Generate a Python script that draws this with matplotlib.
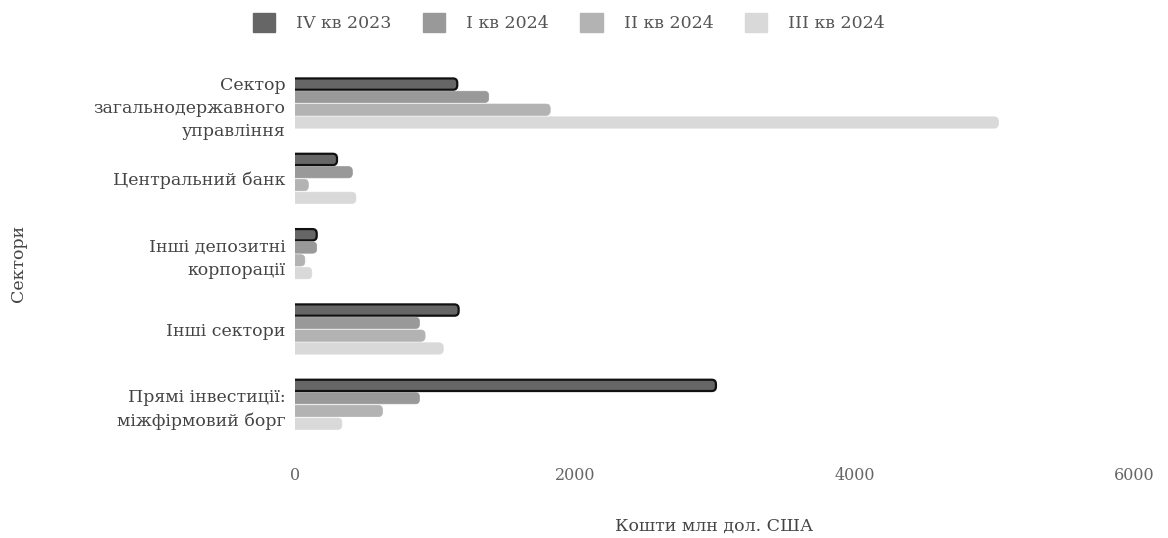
import matplotlib
matplotlib.use("Agg")
import matplotlib.pyplot as plt
from matplotlib.patches import FancyBboxPatch
import numpy as np

plt.rcParams['font.family'] = ['DejaVu Serif', 'Liberation Serif']

sectors = ["Сектор\nзагальнодержавного\nуправління",
           "Центральний банк",
           "Інші депозитні\nкорпорації",
           "Інші сектори",
           "Прямі інвестиції:\nміжфірмовий борг"]
series = ["IV кв 2023", "I кв 2024", "II кв 2024", "III кв 2024"]
q4_2023 = [1160, 300, 155, 1170, 3010]
q1_2024 = [1385, 410, 155, 890, 890]
q2_2024 = [1825, 95, 70, 930, 625]
q3_2024 = [5030, 435, 120, 1060, 335]
values = [q4_2023, q1_2024, q2_2024, q3_2024]
colors = ["#666666", "#999999", "#b3b3b3", "#d9d9d9"]

fig = plt.figure(figsize=(11.68, 5.38), dpi=100)
ax = fig.add_axes([0.2526, 0.178, 0.7183, 0.70])
ax.set_xlim(0, 6000)
ax.set_ylim(len(sectors) - 0.5, -0.5)

y = np.arange(len(sectors))
h = 0.15
step = 0.17
handles = []
for k, (vals, c) in enumerate(zip(values, colors)):
    off = (k - 1.5) * step
    bars = ax.barh(y + off, vals, height=h, color=c, alpha=0)
    handles.append(plt.Rectangle((0, 0), 1, 1, color=c))
    for b in bars:
        x0, y0 = b.get_x(), b.get_y()
        w, hh = b.get_width(), b.get_height()
        r = 30
        p = FancyBboxPatch((x0 - 2 * r, y0), w + 2 * r, hh,
                           boxstyle="round,pad=0,rounding_size=%g" % r,
                           mutation_aspect=0.0019,
                           facecolor=c,
                           edgecolor="#111111" if k == 0 else c,
                           linewidth=1.6 if k == 0 else 0.5,
                           clip_on=True)
        ax.add_patch(p)

ax.set_yticks(y)
ax.set_yticklabels(sectors, fontsize=12.5, color="#444444", linespacing=1.45)
ax.set_xticks([0, 2000, 4000, 6000])
ax.set_xticklabels(["0", "2000", "4000", "6000"], fontsize=11.5, color="#666666")
ax.tick_params(axis='both', length=0)
ax.tick_params(axis='x', pad=18)
ax.tick_params(axis='y', pad=7)
for s in ax.spines.values():
    s.set_visible(False)

ax.set_xlabel("Кошти млн дол. США", fontsize=12.5, color="#444444", labelpad=24)
fig.text(0.016, 0.51, "Сектори", rotation=90, fontsize=12.5, color="#444444",
         ha="center", va="center")

fig.legend(handles, series, loc="upper center", bbox_to_anchor=(0.487, 1.005),
           ncol=4, frameon=False, fontsize=12.5, labelcolor="#555555",
           handlelength=1.3, handleheight=1.3, columnspacing=1.8,
           handletextpad=1.2)

fig.savefig("out.png", dpi=100)
